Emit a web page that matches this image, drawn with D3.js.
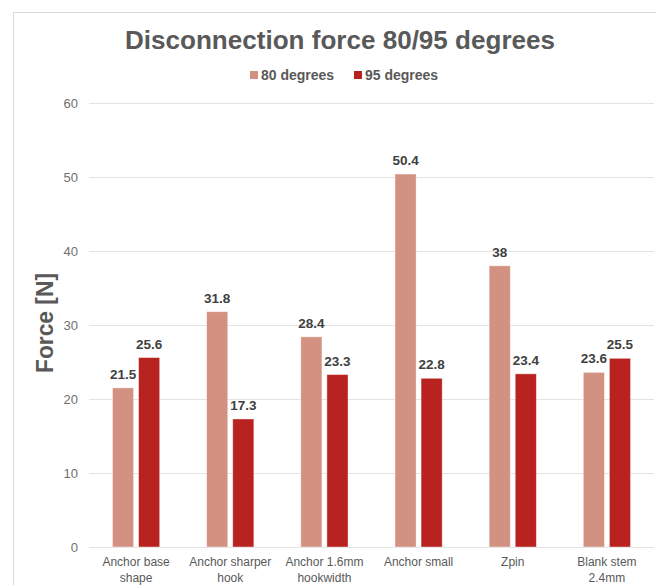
<!DOCTYPE html>
<html><head><meta charset="utf-8">
<script src="https://cdn.jsdelivr.net/npm/d3@7"></script>
<style>body{margin:0;background:#fff;}svg{display:block;font-family:"Liberation Sans",Arial,sans-serif;}</style>
</head><body>
<svg id="c" width="656" height="585"></svg>
<script>
const categories = [["Anchor base","shape"],["Anchor sharper","hook"],["Anchor 1.6mm","hookwidth"],["Anchor small"],["Zpin"],["Blank stem","2.4mm"]];
const series80 = [21.5, 31.8, 28.4, 50.4, 38, 23.6];
const series95 = [25.6, 17.3, 23.3, 22.8, 23.4, 25.5];
const seriesNames = ["80 degrees", "95 degrees"];
const yTicks = [0, 10, 20, 30, 40, 50, 60];
const colors = ["#D39181", "#B8231F"];

const svg = d3.select("#c");
// card border
svg.append("path").attr("d","M13.5,585 V12.5 H656").attr("fill","none").attr("stroke","#d9d9d9");

const x0 = d3.scaleBand().domain(d3.range(categories.length)).range([89, 654]);
const x1 = d3.scaleBand().domain([0,1]).range([0, x0.bandwidth()]).paddingInner(0.19).paddingOuter(0.9);
const y = d3.scaleLinear().domain([0, 60]).range([547, 103]);

// gridlines
svg.append("g").selectAll("line").data(yTicks).join("line")
  .attr("x1", 89).attr("x2", 654).attr("y1", d=>y(d)+0.5).attr("y2", d=>y(d)+0.5)
  .attr("stroke", "#e3e3e3").attr("stroke-width", 1.2);

// y axis labels
const yAxis = d3.axisLeft(y).tickValues(yTicks).tickSize(0).tickPadding(0);
const ga = svg.append("g").attr("transform","translate(78,0)").call(yAxis);
ga.select(".domain").remove();
ga.selectAll("text").attr("font-size", 13).attr("fill", "#6f6f6f").attr("font-family","Liberation Sans, Arial, sans-serif").attr("dy","0.35em");

const data = categories.map((c,i)=>({i, vals:[series80[i], series95[i]]}));
const groups = svg.append("g").selectAll("g").data(data).join("g")
  .attr("transform", d=>`translate(${x0(d.i)},0)`);
groups.selectAll("rect").data(d=>d.vals.map((v,k)=>({v,k}))).join("rect")
  .attr("x", d=>x1(d.k)).attr("width", x1.bandwidth())
  .attr("y", d=>y(d.v)).attr("height", d=>y(0)-y(d.v))
  .attr("fill", d=>colors[d.k]).attr("stroke","#ffffff").attr("stroke-opacity",0.5).attr("stroke-width",0.8);
groups.selectAll("text.lbl").data(d=>d.vals.map((v,k)=>({v,k}))).join("text").attr("class","lbl")
  .attr("x", d=>x1(d.k)+x1.bandwidth()/2).attr("y", d=>y(d.v)-9)
  .attr("text-anchor","middle").attr("font-size",13.5).attr("font-weight","bold").attr("fill","#404040")
  .text(d=>d.v);

// x category labels
const xl = svg.append("g").selectAll("text").data(categories).join("text")
  .attr("x", (d,i)=>x0(i)+x0.bandwidth()/2).attr("y", 566)
  .attr("text-anchor","middle").attr("font-size",12).attr("fill","#595959");
xl.selectAll("tspan").data(d=>d).join("tspan")
  .attr("x", function(){return this.parentNode.getAttribute("x");})
  .attr("dy", (d,i)=>i===0?0:16).text(d=>d);

// title
svg.append("text").attr("x", 340).attr("y", 49).attr("text-anchor","middle")
  .attr("font-size", 25.5).attr("font-weight","bold").attr("fill","#595959")
  .attr("textLength", 430).attr("lengthAdjust","spacingAndGlyphs")
  .text("Disconnection force 80/95 degrees");

// y label
svg.append("text").attr("transform","translate(53,323) rotate(-90)").attr("text-anchor","middle")
  .attr("font-size", 23).attr("font-weight","bold").attr("fill","#595959")
  .attr("textLength", 100).attr("lengthAdjust","spacingAndGlyphs").text("Force [N]");

// legend
const leg = svg.append("g");
const legX = [250, 354];
seriesNames.forEach((n,k)=>{
  leg.append("rect").attr("x", legX[k]).attr("y", 71).attr("width", 8).attr("height", 8).attr("fill", colors[k]);
  leg.append("text").attr("x", legX[k]+11).attr("y", 80).attr("font-size", 14).attr("font-weight","bold").attr("fill","#595959").text(n);
});
</script>
</body></html>
